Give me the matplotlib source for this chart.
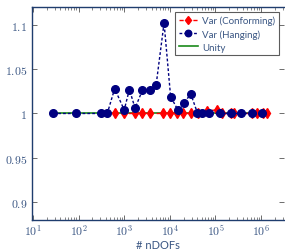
import matplotlib
matplotlib.use("Agg")
import matplotlib.pyplot as plt
from matplotlib.ticker import FixedLocator, FixedFormatter, LogLocator, NullFormatter

# hanging nodes refinement
dofs_hanging = [28, 88, 309, 426, 618, 1000, 1300, 1730, 2500, 3640, 5000, 7470,
                10400, 15000, 20600, 28700, 40000, 51800, 72300, 126000, 219000,
                366000, 644000, 1070000]
var_hanging = [1.0, 1.0, 1.0, 1.0, 1.028, 1.004, 1.027, 1.006, 1.026, 1.026, 1.032,
               1.102, 1.019, 1.004, 1.012, 1.022, 1.001, 1.0, 1.0, 1.0, 1.0, 1.0,
               1.0, 1.0]

# conforming refinement
dofs_conf = [628, 990, 1726, 2497, 3680, 7200, 10100, 14200, 19800, 29200, 41500,
             64400, 107000, 139000, 218000, 256000, 633000, 812000, 1090000, 1340000]
var_conf = [1.0, 1.0, 1.0, 1.0, 1.0, 1.0, 1.0, 1.0, 1.0, 1.0, 1.0,
            1.003, 1.004, 1.0, 1.0, 1.0, 1.0, 1.0, 1.0, 1.0]

unity_x = [28, 1340000]
unity_y = [1.0, 1.0]

yticks = [0.9, 0.95, 1.0, 1.05, 1.1]
ytick_labels = ["$0.9$", "$0.95$", "$1$", "$1.05$", "$1.1$"]

plt.rcParams["mathtext.fontset"] = "cm"
axis_col = "#1f3d6e"
label_col = "#3a5683"

fig = plt.figure(figsize=(2.85, 2.53), dpi=100)
ax = fig.add_axes([0.1123, 0.1265, 0.884, 0.842])

ax.plot(dofs_conf, var_conf, color="red", ls=(0, (3, 2)), lw=1.0,
        marker="d", ms=5, label="Var (Conforming)", zorder=3)
ax.plot(dofs_hanging, var_hanging, color="#000080", ls=(0, (2, 1.5)), lw=1.0,
        marker="o", ms=5.5, label="Var (Hanging)", zorder=4)
ax.plot(unity_x, unity_y, color="#1a8a1a", lw=1.2, label="Unity", zorder=2)

ax.set_xscale("log")
ax.set_xlim(10 ** 0.98, 10 ** 6.5)
ax.set_ylim(0.88, 1.12)

ax.xaxis.set_major_locator(FixedLocator([1e1, 1e2, 1e3, 1e4, 1e5, 1e6]))
ax.xaxis.set_major_formatter(FixedFormatter(["$10^{%d}$" % i for i in range(1, 7)]))
ax.xaxis.set_minor_locator(LogLocator(base=10, subs=range(2, 10), numticks=20))
ax.xaxis.set_minor_formatter(NullFormatter())
ax.yaxis.set_major_locator(FixedLocator(yticks))
ax.yaxis.set_major_formatter(FixedFormatter(ytick_labels))

ax.tick_params(which="both", direction="in", top=True, right=True,
               color="#555555", labelcolor=label_col, labelsize=8.5)
ax.tick_params(which="major", length=3.5, width=0.6)
ax.tick_params(which="minor", length=2, width=0.5)
ax.tick_params(axis="x", pad=2)

for s in ["left", "bottom", "top"]:
    ax.spines[s].set_color(axis_col)
    ax.spines[s].set_linewidth(1.0)
ax.spines["right"].set_visible(False)

ax.set_xlabel("# nDOFs", fontfamily="Lato", fontsize=8, color=label_col, labelpad=1)

leg = ax.legend(loc="upper right", frameon=True, fancybox=False,
                edgecolor="#333333", prop={"family": "Lato", "size": 7},
                handlelength=2.0, handletextpad=0.4, labelspacing=0.4,
                borderpad=0.4, borderaxespad=0.5, markerscale=0.85)
leg.get_frame().set_linewidth(0.8)
for t in leg.get_texts():
    t.set_color(label_col)

fig.savefig("out.png", dpi=100)
